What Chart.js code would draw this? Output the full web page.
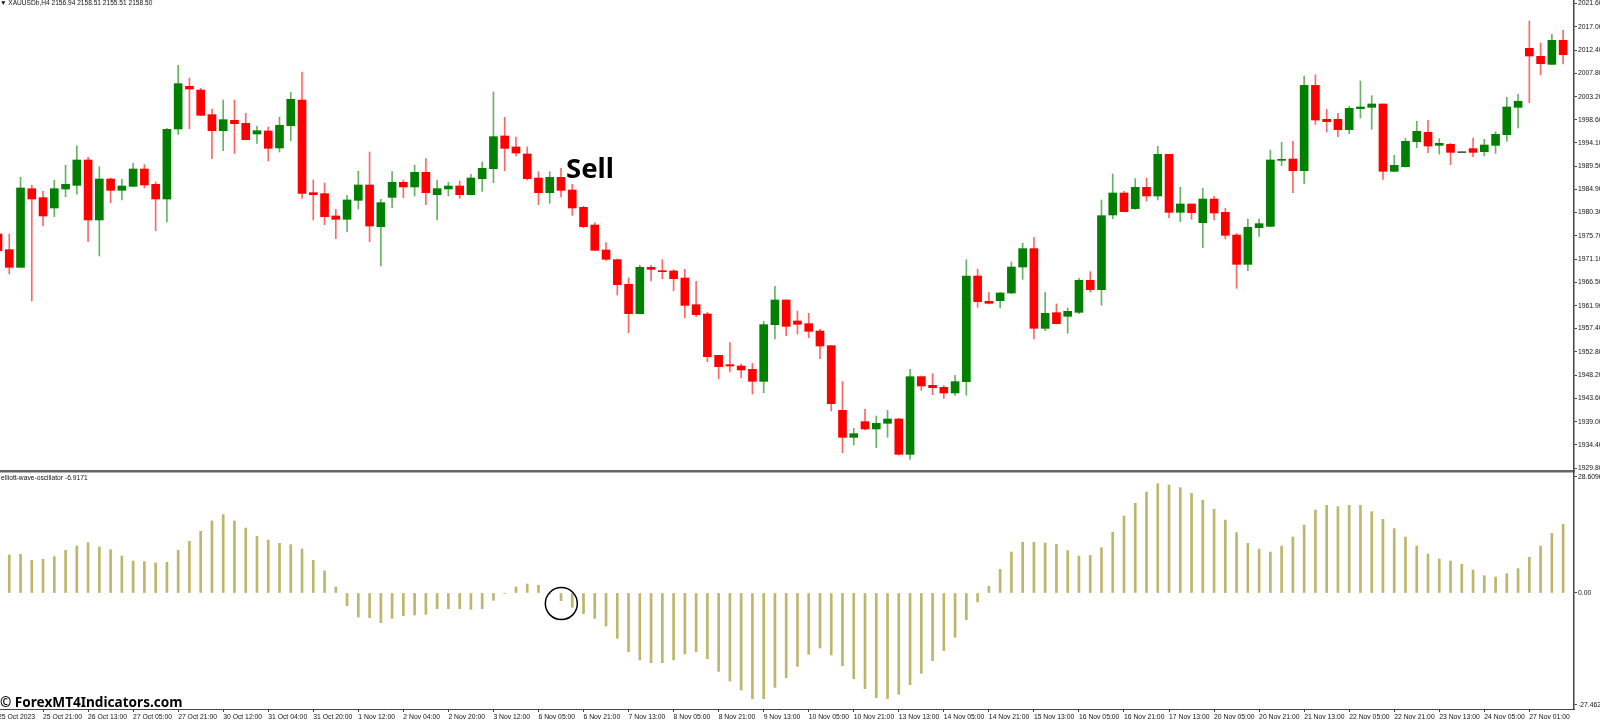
<!DOCTYPE html>
<html><head><meta charset="utf-8">
<script src="https://cdn.jsdelivr.net/npm/chart.js@4"></script>
<style>
html,body{margin:0;padding:0;width:1600px;height:722px;overflow:hidden;background:#fff}
canvas{position:absolute}
.t{position:absolute;white-space:pre;font-family:"Liberation Sans";color:#111;line-height:1}
</style></head><body>
<canvas id="price" style="left:-8px;top:0"></canvas>
<canvas id="osc" style="left:-8px;top:471px"></canvas>
<div class="t" style="left:0;top:0px;font-size:6.7px">▼</div>
<div class="t" style="left:8.3px;top:0px;font-size:6.6px">XAUUSDb,H4 2156.94 2158.51 2155.51 2158.50</div>
<div class="t" style="left:1px;top:475px;font-size:6.7px">elliott-wave-oscillator -6.9171</div>
<div class="t" style="left:566px;top:150.5px;font:bold 27.5px/1.2 'Noto Sans';color:#000">Sell</div>
<div class="t" style="left:0;top:694px;font:bold 13.6px/1.2 'Noto Sans';color:#000">© ForexMT4Indicators.com</div>
<script>
const directions = ["RRGRRGGGRG","RGGRRGGRRR","GRRGRGGRRR","RGGRGGRGRG","GRGGGRRRRG","RRRRRRRGRR","RRRRRRRRGG","RRRRRRGRGG","RGRRRGGRRG","GGRGRGGRGG","RGRGRGRGRR","RGGGGRGRRR","GGGRGGGRGR","DRGGGGRRGR"].join("");
const highs = [
1976.20,1976.07,1987.26,1985.68,1984.50,1986.67,1989.63,1993.52,1991.21,1989.37,
1987.13,1986.87,1990.03,1989.77,1986.34,1996.94,2009.39,2006.88,2004.84,2000.76,
2002.54,2002.54,1999.90,1997.40,1997.20,1999.18,2004.05,2008.07,1986.74,1986.14,
1980.94,1983.71,1988.45,1992.27,1982.92,1988.38,1986.74,1989.64,1990.95,1986.74,
1986.28,1986.54,1987.86,1990.29,2004.12,1999.12,1995.23,1993.26,1988.38,1988.38,
1989.04,1985.88,1981.54,1978.31,1974.36,1971.13,1967.38,1969.88,1969.88,1971.00,
1969.03,1969.09,1966.72,1960.60,1952.11,1954.61,1950.39,1950.53,1958.82,1965.74,
1963.04,1960.86,1960.40,1957.24,1954.02,1946.91,1937.69,1941.44,1940.12,1941.24,
1939.66,1949.34,1948.03,1948.49,1946.12,1948.16,1971.00,1969.16,1964.48,1964.55,
1970.54,1974.23,1975.35,1964.48,1962.25,1961.46,1967.32,1968.63,1982.79,1987.92,
1984.50,1987.00,1987.13,1993.39,1991.81,1985.29,1982.00,1985.09,1983.51,1981.14,
1976.20,1979.03,1979.03,1992.66,1994.18,1994.37,2007.28,2007.54,2000.69,1999.90,
2001.29,2006.29,2003.39,2001.75,1991.61,1994.97,1998.32,1998.52,1994.90,1993.98,
1992.27,1995.03,1994.77,1996.28,2003.06,2003.66,2018.14,2013.80,2015.51,2016.30];
const bodyTops = [
1976.07,1972.98,1985.16,1985.02,1983.25,1985.02,1985.88,1990.69,1990.69,1986.93,
1986.93,1985.55,1988.91,1988.91,1985.88,1996.74,2005.76,2005.24,2004.51,1999.64,
1998.65,1998.52,1997.93,1996.48,1996.42,1997.53,2002.67,2002.54,1984.23,1984.04,
1979.63,1982.79,1985.75,1985.75,1982.26,1986.28,1986.28,1988.25,1988.25,1985.03,
1985.55,1985.55,1987.13,1989.04,1995.30,1995.43,1993.26,1991.87,1987.13,1987.26,
1987.26,1984.76,1981.34,1977.85,1972.91,1971.00,1966.13,1969.49,1969.49,1968.76,
1968.76,1967.38,1962.11,1960.27,1952.11,1950.26,1950.00,1949.34,1958.16,1963.04,
1963.04,1958.89,1958.36,1956.91,1954.02,1941.24,1936.63,1939.00,1938.68,1939.53,
1939.53,1947.89,1947.89,1946.18,1945.79,1946.91,1967.78,1967.78,1962.77,1964.42,
1969.55,1973.18,1973.18,1960.40,1960.53,1960.80,1966.92,1966.92,1979.69,1984.17,
1984.17,1985.29,1985.29,1991.81,1991.81,1982.00,1982.00,1982.98,1982.98,1980.35,
1975.87,1977.39,1978.11,1990.69,1990.75,1990.88,2005.43,2005.43,1998.72,1998.72,
2000.89,2001.16,2001.75,2001.75,1989.63,1994.37,1996.35,1996.15,1993.98,1993.78,
1992.27,1992.93,1993.65,1995.76,2001.16,2002.27,2012.74,2011.16,2014.32,2014.32];
const bodyBottoms = [
1972.78,1969.49,1969.49,1982.98,1979.63,1981.21,1984.96,1985.68,1978.84,1978.84,
1984.70,1984.70,1985.49,1985.75,1982.98,1982.98,1996.81,2004.71,1999.51,1996.48,
1996.48,1997.86,1994.70,1995.82,1992.99,1993.06,1997.47,1984.10,1983.84,1979.49,
1978.97,1978.97,1982.72,1977.65,1977.52,1983.31,1985.36,1985.36,1984.24,1983.84,
1984.96,1983.84,1983.84,1987.00,1988.98,1992.99,1992.07,1987.00,1984.24,1984.24,
1984.70,1981.21,1977.52,1972.85,1971.07,1966.06,1960.34,1960.34,1969.09,1968.63,
1967.25,1961.98,1960.14,1951.84,1949.87,1950.00,1949.21,1946.97,1946.97,1958.16,
1957.83,1958.23,1956.85,1953.95,1942.56,1935.91,1935.91,1937.56,1937.56,1938.68,
1932.55,1932.55,1946.05,1945.72,1944.67,1944.67,1946.91,1962.71,1962.38,1962.90,
1964.42,1969.55,1957.44,1957.44,1958.36,1959.81,1960.60,1965.08,1965.08,1979.83,
1980.48,1981.08,1983.58,1983.58,1980.35,1980.35,1980.28,1978.31,1980.22,1975.81,
1970.08,1970.08,1977.32,1977.58,1990.62,1988.58,1988.58,1998.59,1998.26,1996.68,
1996.68,2000.83,2001.09,1988.45,1988.45,1989.37,1994.31,1993.45,1993.58,1992.20,
1992.14,1992.20,1992.33,1993.58,1995.69,2001.09,2011.23,2009.71,2009.58,2011.49];
const lows = [
1972.58,1968.17,1969.49,1962.84,1977.65,1979.49,1983.44,1983.97,1974.62,1971.72,
1982.26,1982.79,1985.42,1985.16,1976.73,1978.51,1995.76,1996.88,1999.44,1990.95,
1992.53,1992.00,1994.64,1993.98,1990.49,1992.27,1994.51,1983.12,1978.84,1977.91,
1975.15,1976.47,1981.01,1974.56,1969.75,1981.27,1983.25,1983.58,1981.87,1978.84,
1983.58,1983.12,1983.78,1984.50,1986.21,1988.58,1991.48,1986.74,1981.87,1982.13,
1983.38,1979.76,1977.32,1972.78,1970.87,1964.02,1956.58,1960.27,1966.79,1967.25,
1964.88,1959.48,1959.74,1950.86,1947.43,1948.81,1947.69,1944.47,1944.73,1955.33,
1955.99,1956.32,1955.60,1951.45,1941.11,1932.88,1934.40,1937.36,1933.87,1935.91,
1932.42,1931.56,1945.19,1944.34,1943.61,1944.21,1944.21,1961.59,1962.25,1961.46,
1964.29,1967.12,1955.33,1956.98,1958.30,1956.45,1960.34,1964.62,1961.98,1979.10,
1980.42,1980.94,1982.59,1982.79,1979.23,1978.51,1978.97,1973.37,1978.84,1975.08,
1965.34,1968.83,1975.61,1977.52,1989.57,1984.23,1986.01,1997.73,1996.22,1995.30,
1995.89,1998.98,1996.74,1986.87,1988.38,1989.30,1993.12,1992.14,1991.87,1989.77,
1992.14,1991.35,1991.48,1992.00,1994.37,1997.01,2002.01,2007.48,2009.52,2009.65];
const oscillator = [
null,9.35,9.51,8.03,8.28,8.94,10.49,11.56,12.38,11.31,
10.66,9.10,7.87,7.71,7.38,7.54,10.49,12.71,15.17,17.71,
19.27,17.71,15.99,13.94,13.03,12.22,11.89,10.82,8.03,5.41,
1.48,-3.12,-5.90,-6.07,-7.30,-6.23,-5.57,-5.41,-5.25,-3.85,
-3.85,-3.85,-4.02,-3.85,-1.80,-0.16,1.48,2.21,1.89,-0.25,
-1.89,-3.53,-5.08,-6.23,-8.12,-11.15,-14.43,-16.48,-17.13,-17.13,
-16.48,-15.00,-14.43,-16.15,-19.27,-21.64,-23.86,-25.99,-25.99,-23.20,
-20.82,-18.04,-15.08,-13.53,-15.25,-17.87,-21.07,-23.53,-25.74,-25.99,
-24.92,-22.54,-19.76,-16.64,-14.18,-10.90,-6.56,-2.21,1.64,5.82,
10.08,12.46,12.46,12.30,11.97,10.41,9.10,9.26,11.15,14.92,
18.94,22.05,24.84,26.89,26.56,25.91,24.51,22.79,20.58,17.95,
14.84,12.22,10.82,10.08,11.56,13.77,16.72,20.41,21.56,21.23,
21.56,21.56,20.00,18.12,15.82,13.77,11.56,9.59,8.36,7.87,
7.05,5.66,4.26,3.94,4.75,5.98,8.77,11.56,14.67,16.89];
const timeLabels = ["25 Oct 2023","25 Oct 21:00","26 Oct 13:00","27 Oct 05:00","27 Oct 21:00","30 Oct 12:00","31 Oct 04:00","31 Oct 20:00","1 Nov 12:00","2 Nov 04:00","2 Nov 20:00","3 Nov 12:00","6 Nov 05:00","6 Nov 21:00","7 Nov 13:00","8 Nov 05:00","8 Nov 21:00","9 Nov 13:00","10 Nov 05:00","10 Nov 21:00","13 Nov 13:00","14 Nov 05:00","14 Nov 21:00","15 Nov 13:00","16 Nov 05:00","16 Nov 21:00","17 Nov 13:00","20 Nov 05:00","20 Nov 21:00","21 Nov 13:00","22 Nov 05:00","22 Nov 21:00","23 Nov 13:00","24 Nov 05:00","27 Nov 01:00"];
const priceTicks = [2021.6,2017.0,2012.4,2007.8,2003.2,1998.6,1994.1,1989.5,1984.9,1980.3,1975.7,1971.1,1966.5,1961.9,1957.4,1952.8,1948.2,1943.6,1939.0,1934.4,1929.8];
const oscTicks = [28.6096,0,-27.462];
const oscTickLabels = ["28.6096","0.00","-27.462"];
const labelEvery = 4;

const tickFont = {family:"Liberation Sans",size:6.8};
const axisColor = "#444", textColor = "#111";
const RED="#ff0000",GREEN="#008000",DOJI="#555555";
const fill = directions.split("").map(d=>d==="R"?RED:d==="G"?GREEN:DOJI);
const wick = directions.split("").map(d=>d==="R"?"rgba(255,0,0,0.6)":d==="G"?"rgba(0,128,0,0.6)":DOJI);
const xMin=-0.533,xMax=139.966;

function xAxis(showLabels,h){
  return {type:"linear",min:xMin,max:xMax,offset:false,
    afterBuildTicks(s){ s.ticks=[]; for(let i=0;i*labelEvery<directions.length && i<timeLabels.length;i++) s.ticks.push({value:i*labelEvery}); },
    afterFit(s){ s.height=h; s.paddingLeft=0; s.paddingRight=0; },
    border:{color:showLabels?axisColor:"#666",width:showLabels?1:2.5},
    grid:{drawOnChartArea:false,drawTicks:showLabels,tickLength:3,tickColor:axisColor,offset:false},
    ticks:{display:showLabels,autoSkip:false,maxRotation:0,minRotation:0,align:"start",padding:1,font:tickFont,color:textColor,
      callback:v=>timeLabels[Math.round(v/labelEvery)]}};
}
function yAxis(min,max,build,cb){
  return {position:"right",type:"linear",min,max,
    afterBuildTicks(s){ s.ticks=build.map(v=>({value:v})); },
    afterFit(s){ s.width=26; s.paddingTop=0; s.paddingBottom=0; },
    border:{color:axisColor,width:1.5},
    grid:{drawOnChartArea:false,tickLength:3,tickColor:axisColor},
    ticks:{autoSkip:false,padding:1,font:tickFont,color:textColor,callback:cb}};
}
const base={responsive:false,animation:false,devicePixelRatio:1,
  plugins:{legend:{display:false},tooltip:{enabled:false}}};

function size(id,w,h){const c=document.getElementById(id);c.width=w;c.height=h;c.style.width=w+"px";c.style.height=h+"px";return c;}

new Chart(size("price",1608,474),{type:"bar",
  data:{datasets:[
    {label:"wick",grouped:false,barThickness:1,order:2,backgroundColor:wick,
     data:highs.map((h,i)=>({x:i,y:[lows[i],h]}))},
    {label:"body",grouped:false,barThickness:8,order:1,minBarLength:1,backgroundColor:fill,
     data:bodyTops.map((t,i)=>({x:i,y:[bodyBottoms[i],t]}))}
  ]},
  options:{...base,layout:{autoPadding:false,padding:0},
    scales:{x:xAxis(false,3),y:yAxis(1929.26,2022.29,priceTicks,v=>v.toFixed(2))}}});

const circleMark={id:"circleMark",afterDatasetsDraw(ch){
  const c=ch.ctx,x=ch.scales.x.getPixelForValue(50.03),y=ch.scales.y.getPixelForValue(-2.6);
  c.save();c.strokeStyle="#000";c.lineWidth=1.5;c.beginPath();c.arc(x,y,16,0,Math.PI*2);c.stroke();c.restore();
}};
new Chart(size("osc",1608,251),{type:"bar",
  data:{datasets:[{label:"elliott-wave-oscillator",barThickness:2,backgroundColor:"#bdb76b",
     data:oscillator.map((v,i)=>({x:i,y:v}))}]},
  options:{...base,layout:{autoPadding:false,padding:{top:2}},
    scales:{x:xAxis(true,13),y:yAxis(-28.53,29.51,oscTicks,v=>oscTickLabels[oscTicks.indexOf(v)])}},
  plugins:[circleMark]});
</script>
</body></html>
